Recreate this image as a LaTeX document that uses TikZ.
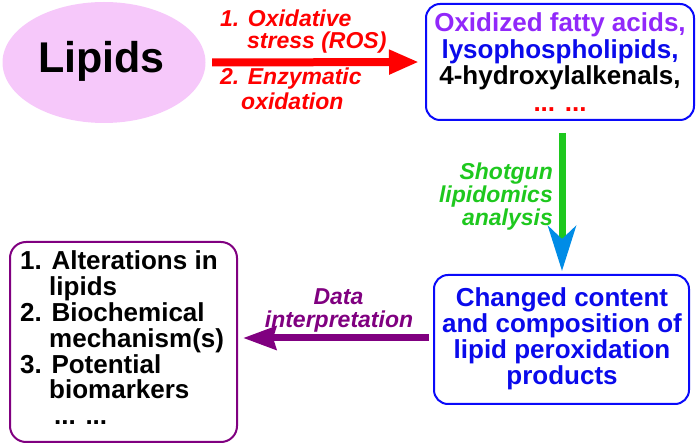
\documentclass[tikz,border=0pt]{standalone}
\usepackage{fontspec}
\setmainfont{Liberation Sans}
\usetikzlibrary{shapes.geometric,arrows.meta}
\definecolor{pinkfill}{RGB}{246,200,250}
\definecolor{boxblue}{RGB}{10,10,250}
\definecolor{txtblue}{RGB}{10,10,235}
\definecolor{violettxt}{RGB}{145,40,250}
\definecolor{darkpurple}{RGB}{128,0,128}
\definecolor{grn}{RGB}{30,200,30}
\definecolor{headblue}{RGB}{0,140,230}
\definecolor{redc}{RGB}{255,0,0}
\begin{document}
\begin{tikzpicture}[x=1pt,y=-1pt,
  boxtxt/.style={inner sep=0pt, anchor=base, font=\fontsize{26}{26}\selectfont\bfseries},
  listtxt/.style={inner sep=0pt, anchor=base west, font=\fontsize{26}{26}\selectfont\bfseries},
  lbl/.style={inner sep=0pt, font=\fontsize{23}{23}\selectfont\bfseries\itshape},
  framebox/.style={draw, rounded corners=14pt, line width=2pt, inner sep=0pt}]
\useasboundingbox (0,0) rectangle (697,443);

% Lipids
\node[ellipse, fill=pinkfill, minimum width=203pt, minimum height=121pt, inner sep=0pt] (lipids) at (104,62.5) {};
\node[inner sep=0pt, anchor=base, font=\fontsize{43}{43}\selectfont\bfseries] (lipidstxt) at (101.5,73) {Lipids};

% top right box
\node[framebox, draw=boxblue, minimum width=268pt, minimum height=116pt] (top) at (560,62) {};
\node[boxtxt, text=violettxt] (t1) at (560,32) {Oxidized fatty acids,};
\node[boxtxt, text=txtblue] (t2) at (560,58.5) {lysophospholipids,};
\node[boxtxt, text=black] (t3) at (560,85) {4-hydroxylalkenals,};
\node[boxtxt, text=redc] (t4) at (560,111.5) {... ...};

% red arrow and labels
\draw[redc, line width=8pt, -{Triangle[length=30pt,width=23pt]}, shorten <=6.5pt, shorten >=6pt] (lipids.east) -- (top.west);
\node[lbl, text=redc, anchor=base west] (r1) at (220,27) {1. Oxidative};
\node[lbl, text=redc, anchor=base west] (r2) at (247,48.5) {stress (ROS)};
\node[lbl, text=redc, anchor=base west] (r3) at (220,85) {2. Enzymatic};
\node[lbl, text=redc, anchor=base west] (r4) at (241,109.5) {oxidation};

% bottom right box
\node[framebox, draw=boxblue, minimum width=255pt, minimum height=129pt] (bot) at (561.5,339.5) {};
\node[boxtxt, text=txtblue] (b1) at (562,307) {Changed content};
\node[boxtxt, text=txtblue] (b2) at (562,333) {and composition of};
\node[boxtxt, text=txtblue] (b3) at (562,359) {lipid peroxidation};
\node[boxtxt, text=txtblue] (b4) at (562,385) {products};

% green arrow and labels
\draw[grn, line width=7pt, -{Stealth[length=45pt,width=28pt,inset=13pt,color=headblue]}, shorten <=12pt, shorten >=3pt] ([xshift=2pt]top.south) -- ([xshift=0.5pt]bot.north);
\node[lbl, text=grn, anchor=base east] (g1) at (553,180) {Shotgun};
\node[lbl, text=grn, anchor=base east] (g2) at (553,203) {lipidomics};
\node[lbl, text=grn, anchor=base east] (g3) at (553,225.5) {analysis};

% bottom left box
\node[framebox, draw=darkpurple, rounded corners=16pt, minimum width=227pt, minimum height=200pt] (left) at (123.5,342) {};
\node[listtxt] (l1) at (20,270) {1. Alterations in};
\node[listtxt] (l2) at (49,295.8) {lipids};
\node[listtxt] (l3) at (20,321.6) {2. Biochemical};
\node[listtxt] (l4) at (49,347.4) {mechanism(s)};
\node[listtxt] (l5) at (20,373.2) {3. Potential};
\node[listtxt] (l6) at (49,399) {biomarkers};
\node[listtxt] (l7) at (54,424.8) {... ...};

% purple arrow and labels
\draw[darkpurple, line width=7pt, -{Stealth[length=33pt,width=23pt,inset=3pt]}, shorten <=4pt, shorten >=5pt] ([yshift=1.5pt]bot.west) -- ([yshift=1.5pt]bot.west -| left.east);
\node[lbl, text=darkpurple, anchor=base] (d1) at (338.5,305) {Data};
\node[lbl, text=darkpurple, anchor=base] (d2) at (339,327.5) {interpretation};
\end{tikzpicture}
\end{document}
